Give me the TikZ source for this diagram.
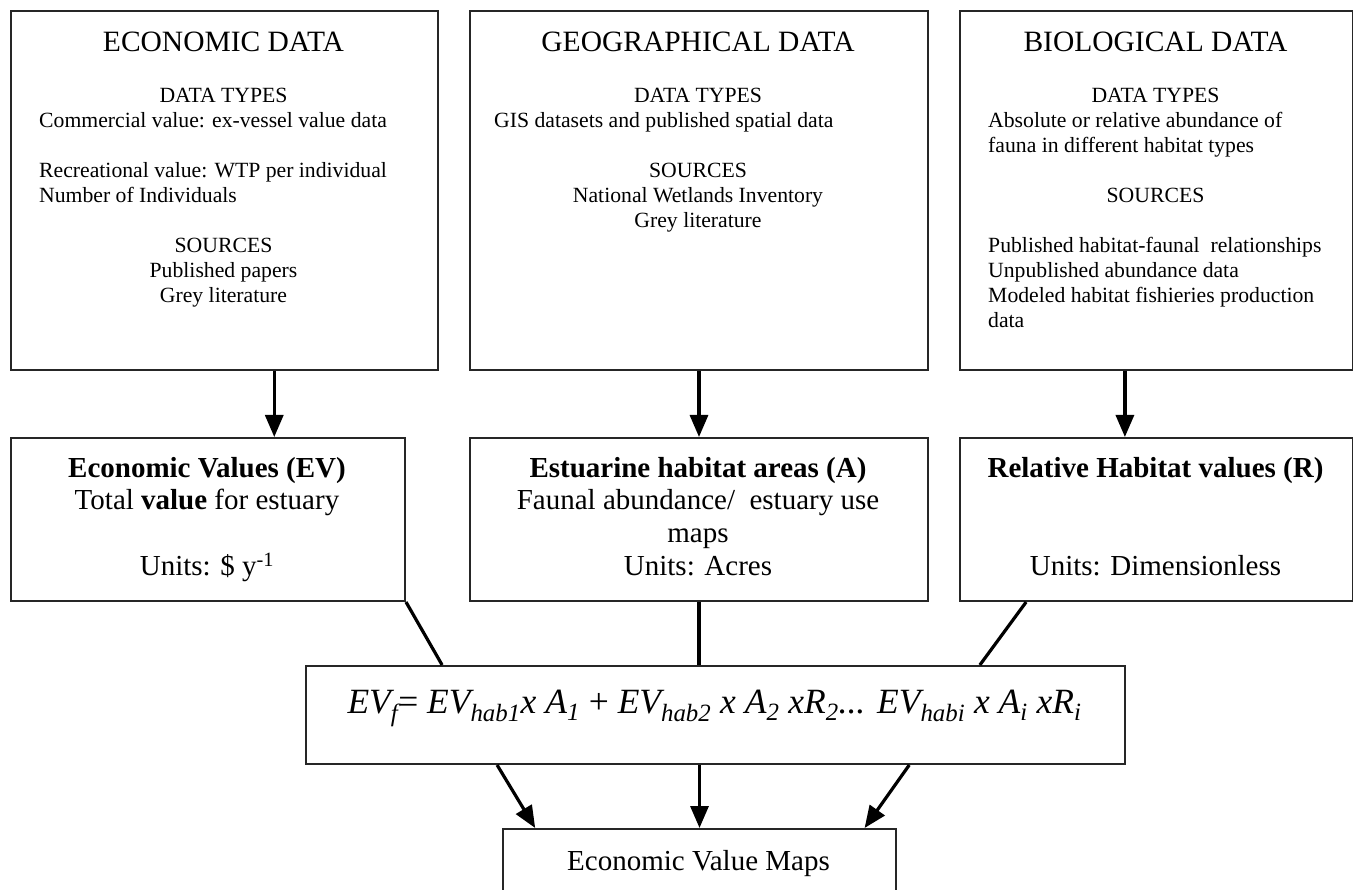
\documentclass[tikz,border=0pt]{standalone}
\usepackage{fontspec}
\setmainfont{Liberation Serif}
\usetikzlibrary{arrows.meta,calc}
\tikzset{
  box/.style={draw=black!85, line width=2pt, rectangle, inner sep=0pt, anchor=north west},
  hd/.style={font=\fontsize{29.5}{33}\selectfont, inner sep=0pt, anchor=base},
  bd/.style={font=\fontsize{21.7}{25}\selectfont, inner sep=0pt, anchor=base},
  bdl/.style={bd, anchor=base west},
  md/.style={font=\fontsize{29}{33}\selectfont, inner sep=0pt, anchor=base},
  mdb/.style={md, font=\fontsize{29}{33}\selectfont\bfseries},
  fm/.style={font=\fontsize{35.5}{40}\selectfont, inner sep=0pt, anchor=base},
  conn/.style={line width=3.2pt, black},
  arr/.style={conn, -{Triangle[length=22pt,width=18pt]}},
}
\begin{document}
\begin{tikzpicture}[x=1pt, y=-1pt]
\useasboundingbox (0,0) rectangle (1353,890);
\clip (0,0) rectangle (1353,890);
\fill[white] (0,0) rectangle (1353,890);
% top boxes
\node[box, minimum width=427pt, minimum height=359pt] (econ) at (10,10) {};
\node[box, minimum width=458pt, minimum height=359pt] (geo) at (469,10) {};
\node[box, minimum width=393pt, minimum height=359pt] (bio) at (959,10) {};
% middle boxes
\node[box, minimum width=394pt, minimum height=163pt] (ev) at (10,437) {};
\node[box, minimum width=458pt, minimum height=163pt] (est) at (469,437) {};
\node[box, minimum width=393pt, minimum height=163pt] (rel) at (959,437) {};
% formula and maps
\node[box, minimum width=819pt, minimum height=98pt] (form) at (305,665) {};
\node[box, minimum width=393pt, minimum height=80pt] (maps) at (502,828) {};

% economic data text
\node[hd] (e1) at (223.5,52) {ECONOMIC DATA};
\node[bd] (e2) at (223.5,103) {DATA TYPES};
\node[bdl] (e3) at (39,128) {Commercial value: ex-vessel value data};
\node[bdl] (e4) at (39,178) {Recreational value: WTP per individual};
\node[bdl] (e5) at (39,203) {Number of Individuals};
\node[bd] (e6) at (223.5,253) {SOURCES};
\node[bd] (e7) at (223.5,278) {Published papers};
\node[bd] (e8) at (223.5,303) {Grey literature};

% geographical data text
\node[hd] (g1) at (698,52) {GEOGRAPHICAL DATA};
\node[bd] (g2) at (698,103) {DATA TYPES};
\node[bdl] (g3) at (494,128) {GIS datasets and published spatial data};
\node[bd] (g4) at (698,178) {SOURCES};
\node[bd] (g5) at (698,203) {National Wetlands Inventory};
\node[bd] (g6) at (698,228) {Grey literature};

% biological data text
\node[hd] (b1) at (1155.5,52) {BIOLOGICAL DATA};
\node[bd] (b2) at (1155.5,103) {DATA TYPES};
\node[bdl] (b3) at (988,128) {Absolute or relative abundance of};
\node[bdl] (b4) at (988,153) {fauna in different habitat types};
\node[bd] (b5) at (1155.5,203) {SOURCES};
\node[bdl] (b6) at (988,253) {Published habitat-faunal\ \ relationships};
\node[bdl] (b7) at (988,278) {Unpublished abundance data};
\node[bdl] (b8) at (988,303) {Modeled habitat fishieries production};
\node[bdl] (b9) at (988,328) {data};

% middle texts
\node[mdb] (v1) at (207,478) {Economic Values (EV)};
\node[md] (v2) at (207,510) {Total \textbf{value} for estuary};
\node[md] (v3) at (207,576) {Units: \$ y\textsuperscript{-1}};

\node[mdb] (h1) at (698,478) {Estuarine habitat areas (A)};
\node[md] (h2) at (698,510) {Faunal abundance/\ \ estuary use};
\node[md] (h3) at (698,543) {maps};
\node[md] (h4) at (698,576) {Units: Acres};

\node[mdb] (r1t) at (1155.5,478) {Relative Habitat values (R)};
\node[md] (r2t) at (1155.5,576) {Units: Dimensionless};

% formula
\node[fm] (ftxt) at (714.5,713) {\itshape EV\textsubscript{f}{\upshape =} EV\textsubscript{hab1}x A\textsubscript{1} {\upshape +} EV\textsubscript{hab2} x A\textsubscript{2} xR\textsubscript{2}... EV\textsubscript{habi} x A\textsubscript{i} xR\textsubscript{i}};

% maps text
\node[md] (mt) at (698.5,870) {Economic Value Maps};

% connectors
\coordinate (a1) at ($(econ.south west)!0.616!(econ.south east)$);
\draw[arr] (a1) -- (a1 |- ev.north);
\draw[arr] (geo.south) -- (est.north);
\coordinate (a3) at ($(bio.south west)!0.42!(bio.south east)$);
\draw[arr] (a3) -- (a3 |- rel.north);

\coordinate (f1) at ($(form.north west)!0.167!(form.north east)$);
\draw[conn] (ev.south east) -- (f1);
\draw[conn] (est.south) -- (est.south |- form.north);
\coordinate (r1) at ($(rel.south west)!0.17!(rel.south east)$);
\coordinate (f3) at ($(form.north west)!0.822!(form.north east)$);
\draw[conn] (r1) -- (f3);

\coordinate (b1s) at ($(form.south west)!0.234!(form.south east)$);
\coordinate (b1e) at ($(maps.north west)!0.084!(maps.north east)$);
\draw[arr] (b1s) -- (b1e);
\draw[arr] (maps.north |- form.south) -- (maps.north);
\coordinate (b3s) at ($(form.south west)!0.736!(form.south east)$);
\coordinate (b3e) at ($(maps.north west)!0.918!(maps.north east)$);
\draw[arr] (b3s) -- (b3e);
\end{tikzpicture}
\end{document}
